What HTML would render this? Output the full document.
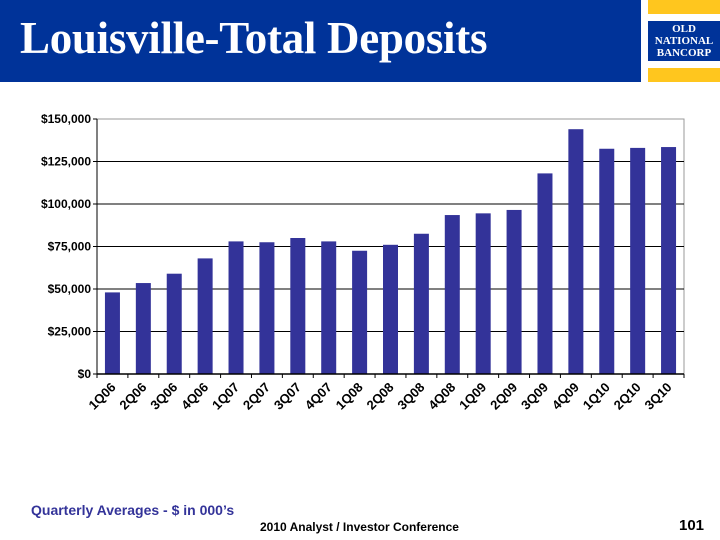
<!DOCTYPE html>
<html><head><meta charset="utf-8"><style>
body{margin:0;width:720px;height:540px;background:#fff;overflow:hidden;position:relative;font-family:"Liberation Sans",sans-serif}
.hdr{position:absolute;left:0;top:0;width:641px;height:82px;background:#003399}
.title{position:absolute;left:20px;top:12px;font-family:"Liberation Serif",serif;font-weight:bold;font-size:45px;color:#fff;letter-spacing:-0.3px}
.y1{position:absolute;left:648px;top:0;width:72px;height:14px;background:#FFC61E}
.y2{position:absolute;left:648px;top:68px;width:72px;height:14px;background:#FFC61E}
.logo{position:absolute;left:648px;top:21px;width:72px;height:40px;background:#003399;color:#fff;font-family:"Liberation Serif",serif;font-weight:bold;font-size:11px;line-height:12px;text-align:center;padding-top:2px;box-sizing:border-box}
.note{position:absolute;left:31px;top:502px;color:#333399;font-weight:bold;font-size:14px}
.conf{position:absolute;left:260px;top:520px;font-weight:bold;font-size:12px}
.pg{position:absolute;left:679px;top:517px;font-weight:bold;font-size:15px}
</style></head><body>
<div class="hdr"></div>
<div class="title">Louisville-Total Deposits</div>
<div class="y1"></div>
<div class="logo">OLD<br>NATIONAL<br>BANCORP</div>
<div class="y2"></div>
<svg id="chart" width="720" height="540" style="position:absolute;left:0;top:0"></svg>
<div class="note">Quarterly Averages - $ in 000’s</div>
<div class="conf">2010 Analyst / Investor Conference</div>
<div class="pg">101</div>
<script>
const categories=["1Q06","2Q06","3Q06","4Q06","1Q07","2Q07","3Q07","4Q07","1Q08","2Q08","3Q08","4Q08","1Q09","2Q09","3Q09","4Q09","1Q10","2Q10","3Q10"];
const values=[48000,53500,59000,68000,78000,77500,80000,78000,72500,76000,82500,93500,94500,96500,118000,144000,132500,133000,133500];
const yTicks=[0,25000,50000,75000,100000,125000,150000];
const yTickLabels=["$0","$25,000","$50,000","$75,000","$100,000","$125,000","$150,000"];
const NS="http://www.w3.org/2000/svg";
const svg=document.getElementById('chart');
const L=97,R=684,T=119,B=374,yMax=150000;
const y=v=>B-(v/yMax)*(B-T);
const cw=(R-L)/categories.length;
const xc=i=>L+cw*(i+0.5);
function mk(t,a){const e=document.createElementNS(NS,t);for(const k in a)e.setAttribute(k,a[k]);svg.appendChild(e);return e;}
const frame=mk('rect',{x:L,y:T,width:R-L,height:B-T,fill:'none',stroke:'#999','stroke-width':1});


yTicks.forEach((v,i)=>{
 if(v>0&&v<yMax){const g=mk('line',{x1:L,x2:R,y1:y(v),y2:y(v),stroke:'#000','stroke-width':1});
 
 }
 const tk=mk('line',{x1:L-4,x2:L,y1:y(v),y2:y(v),stroke:'#000'});
 
 
 const t=mk('text',{x:L-6,y:y(v)+4,'text-anchor':'end','font-size':12,'font-weight':'bold','font-family':'Liberation Sans, sans-serif'});
 t.textContent=yTickLabels[i];
 
 
});
values.forEach((v,i)=>{
 const bw=15;
 const b=mk('rect',{x:xc(i)-bw/2,y:y(v),width:bw,height:B-y(v),fill:'#333399'});
 
 
 const t=mk('text',{x:xc(i)+4,y:B+14,'text-anchor':'end','font-size':13,'font-weight':'bold','font-family':'Liberation Sans, sans-serif',transform:`rotate(-45 ${xc(i)+4} ${B+14})`});
 t.textContent=categories[i];
 
 
});
for(let i=0;i<=categories.length;i++){
 const tk=mk('line',{x1:L+cw*i,x2:L+cw*i,y1:B,y2:B+4,stroke:'#000'});
 
 
}
const ax=mk('line',{x1:L,x2:R,y1:B,y2:B,stroke:'#000','stroke-width':1.5});


const ay=mk('line',{x1:L,x2:L,y1:T,y2:B,stroke:'#000','stroke-width':1});


</script>
</body></html>
